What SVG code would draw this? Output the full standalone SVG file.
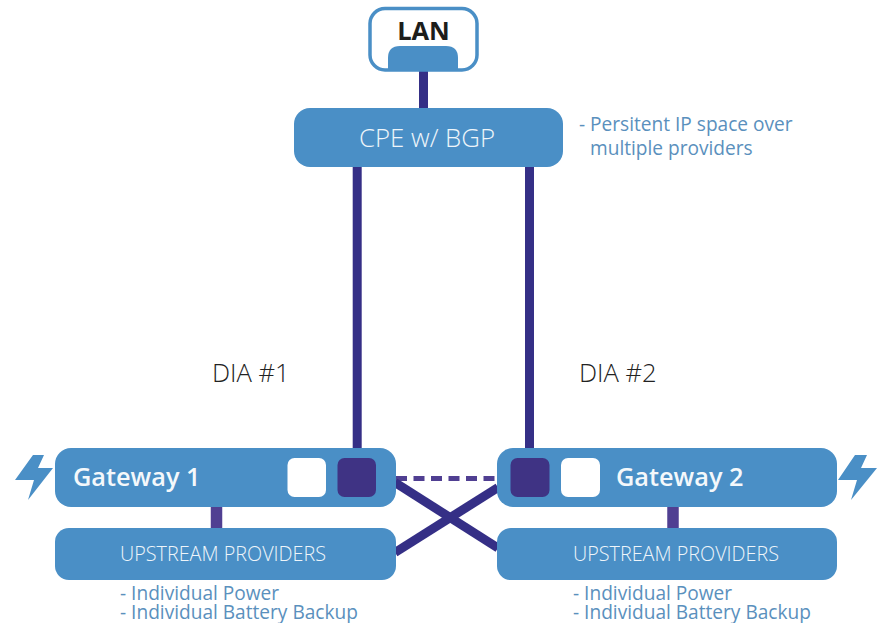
<svg xmlns="http://www.w3.org/2000/svg" width="884" height="623" viewBox="0 0 884 623">
<style>
text{font-family:"Open Sans","Noto Sans","DejaVu Sans",sans-serif}
.box{fill:#4a8fc6}
.cn{fill:none;stroke:#352f86;stroke-width:9}
.cs{fill:none;stroke:#503f92;stroke-width:11.500}
.white{fill:#fff}
.dark{fill:#3f3384}
.wt{fill:#eef5fa;text-anchor:middle;font-weight:300}
.note{fill:#5a90bd;font-size:19.100px}
.dia{fill:#222;font-size:25.600px;font-weight:300}
.gw{fill:#f4f8fb;font-size:25.300px;font-weight:600}
.up{fill:#eef5fa;font-size:19.800px;text-anchor:middle;font-weight:300}
</style>
<rect width="884" height="623" fill="#fff"/>
<g id="connectors">
<line class="cn" x1="423.500" y1="70" x2="423.500" y2="110"/>
<line class="cn" x1="357.200" y1="165" x2="357.200" y2="460"/>
<line class="cn" x1="529.500" y1="165" x2="529.500" y2="460"/>
<line x1="396" y1="478.500" x2="498" y2="478.500" fill="none" stroke="#503f92" stroke-width="5" stroke-dasharray="11 6.500"/>
<line class="cn" x1="395" y1="482.500" x2="498" y2="548"/>
<line class="cn" x1="395" y1="552.500" x2="498" y2="487.500"/>
<line class="cs" x1="216.500" y1="506" x2="216.500" y2="530"/>
<line class="cs" x1="673" y1="506" x2="673" y2="530"/>
</g>
<g id="lan">
<rect x="370" y="8.500" width="107" height="61.500" rx="15" fill="#fff" stroke="#4a8fc6" stroke-width="3.500"/>
<path class="box" d="M388 70V58Q388 46 400 46H446Q458 46 458 58V70Z"/>
<text x="423.500" y="40" text-anchor="middle" font-size="25.500" font-weight="700" fill="#1d1d1b">LAN</text>
</g>
<g id="cpe">
<rect class="box" x="294" y="108" width="269" height="59" rx="16"/>
<text class="wt" x="427" y="147" font-size="25.800">CPE w/ BGP</text>
</g>
<g id="cpe-note">
<text class="note" x="579" y="131">- Persitent IP space over</text>
<text class="note" x="590" y="155">multiple providers</text>
</g>
<text class="dia" x="212" y="382">DIA #1</text>
<text class="dia" x="579" y="382">DIA #2</text>
<g id="gateway1">
<path class="box" d="M33 455H44L38 468H53L28 500L34 480H15Z"/>
<rect class="box" x="55" y="448" width="341" height="59" rx="16"/>
<text class="gw" x="73" y="486">Gateway 1</text>
<rect class="white" x="287.500" y="458" width="38.500" height="39" rx="7"/>
<rect class="dark" x="337.500" y="458" width="38.500" height="39" rx="7"/>
</g>
<g id="gateway2">
<rect class="box" x="497" y="448" width="340" height="59" rx="16"/>
<path class="box" d="M855 455H867L861 468H877L851 500L857 480H838Z"/>
<text class="gw" x="616" y="486">Gateway 2</text>
<rect class="dark" x="510.500" y="458" width="39" height="39" rx="7"/>
<rect class="white" x="561" y="458" width="39" height="39" rx="7"/>
</g>
<g id="upstream1">
<rect class="box" x="55" y="528" width="341" height="52" rx="14"/>
<text class="up" x="223" y="561">UPSTREAM PROVIDERS</text>
<text class="note" x="120" y="600">- Individual Power</text>
<text class="note" x="120" y="618.500">- Individual Battery Backup</text>
</g>
<g id="upstream2">
<rect class="box" x="497" y="528" width="340" height="52" rx="14"/>
<text class="up" x="676" y="561">UPSTREAM PROVIDERS</text>
<text class="note" x="573" y="600">- Individual Power</text>
<text class="note" x="573" y="618.500">- Individual Battery Backup</text>
</g>
</svg>
